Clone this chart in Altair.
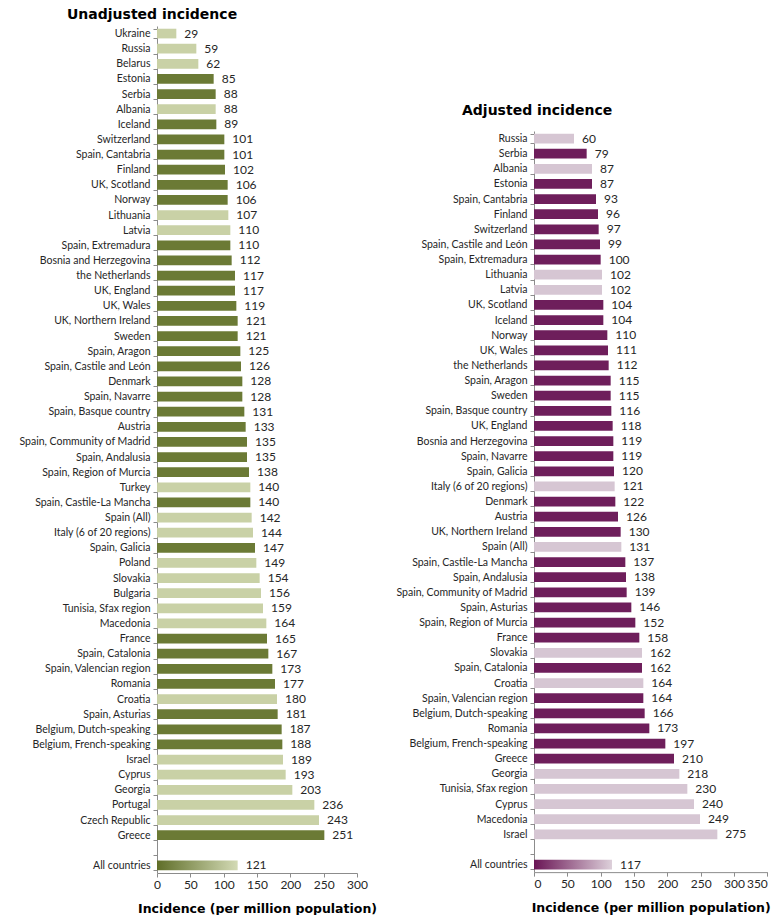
import altair as alt
import pandas as pd

# ---- data ----
left_countries = ["Ukraine", "Russia", "Belarus", "Estonia", "Serbia", "Albania", "Iceland",
    "Switzerland", "Spain, Cantabria", "Finland", "UK, Scotland", "Norway", "Lithuania", "Latvia",
    "Spain, Extremadura", "Bosnia and Herzegovina", "the Netherlands", "UK, England", "UK, Wales",
    "UK, Northern Ireland", "Sweden", "Spain, Aragon", "Spain, Castile and León", "Denmark",
    "Spain, Navarre", "Spain, Basque country", "Austria", "Spain, Community of Madrid",
    "Spain, Andalusia", "Spain, Region of Murcia", "Turkey", "Spain, Castile-La Mancha",
    "Spain (All)", "Italy (6 of 20 regions)", "Spain, Galicia", "Poland", "Slovakia", "Bulgaria",
    "Tunisia, Sfax region", "Macedonia", "France", "Spain, Catalonia", "Spain, Valencian region",
    "Romania", "Croatia", "Spain, Asturias", "Belgium, Dutch-speaking", "Belgium, French-speaking",
    "Israel", "Cyprus", "Georgia", "Portugal", "Czech Republic", "Greece"]
left_values = [29, 59, 62, 85, 88, 88, 89, 101, 101, 102, 106, 106, 107, 110, 110, 112, 117, 117,
    119, 121, 121, 125, 126, 128, 128, 131, 133, 135, 135, 138, 140, 140, 142, 144, 147, 149, 154,
    156, 159, 164, 165, 167, 173, 177, 180, 181, 187, 188, 189, 193, 203, 236, 243, 251]
left_groups = ["light", "light", "light", "dark", "dark", "light", "dark", "dark", "dark", "dark",
    "dark", "dark", "light", "light", "dark", "dark", "dark", "dark", "dark", "dark", "dark", "dark",
    "dark", "dark", "dark", "dark", "dark", "dark", "dark", "dark", "light", "dark", "light", "light",
    "dark", "light", "light", "light", "light", "light", "dark", "dark", "dark", "dark", "light",
    "dark", "dark", "dark", "light", "light", "light", "light", "light", "dark"]
left_all = 121

right_countries = ["Russia", "Serbia", "Albania", "Estonia", "Spain, Cantabria", "Finland",
    "Switzerland", "Spain, Castile and León", "Spain, Extremadura", "Lithuania", "Latvia",
    "UK, Scotland", "Iceland", "Norway", "UK, Wales", "the Netherlands", "Spain, Aragon", "Sweden",
    "Spain, Basque country", "UK, England", "Bosnia and Herzegovina", "Spain, Navarre",
    "Spain, Galicia", "Italy (6 of 20 regions)", "Denmark", "Austria", "UK, Northern Ireland",
    "Spain (All)", "Spain, Castile-La Mancha", "Spain, Andalusia", "Spain, Community of Madrid",
    "Spain, Asturias", "Spain, Region of Murcia", "France", "Slovakia", "Spain, Catalonia", "Croatia",
    "Spain, Valencian region", "Belgium, Dutch-speaking", "Romania", "Belgium, French-speaking",
    "Greece", "Georgia", "Tunisia, Sfax region", "Cyprus", "Macedonia", "Israel"]
right_values = [60, 79, 87, 87, 93, 96, 97, 99, 100, 102, 102, 104, 104, 110, 111, 112, 115, 115,
    116, 118, 119, 119, 120, 121, 122, 126, 130, 131, 137, 138, 139, 146, 152, 158, 162, 162, 164,
    164, 166, 173, 197, 210, 218, 230, 240, 249, 275]
right_groups = ["light", "dark", "light", "dark", "dark", "dark", "dark", "dark", "dark", "light",
    "light", "dark", "dark", "dark", "dark", "dark", "dark", "dark", "dark", "dark", "dark", "dark",
    "dark", "light", "dark", "dark", "dark", "light", "dark", "dark", "dark", "dark", "dark", "dark",
    "light", "dark", "light", "dark", "dark", "dark", "dark", "dark", "light", "light", "light",
    "light", "light"]
right_all = 117

left_ticks = [0, 50, 100, 150, 200, 250, 300]
right_ticks = [0, 50, 100, 150, 200, 250, 300, 350]

STEP = 15.125
LABEL_FONT = "Lato"
TITLE_FONT = "DejaVu Sans"


def panel(countries, values, groups, all_value, colors, grad, ticks, title, title_dx, extent,
          title_offset, flush):
    domain = countries + [" ", "All countries"]
    df = pd.DataFrame({"country": countries, "value": values, "group": groups})
    dfall = pd.DataFrame({"country": ["All countries"], "value": [all_value], "group": ["all"]})
    dftext = pd.concat([df, dfall], ignore_index=True)
    xmax = ticks[-1]
    width = xmax * 200 / 300
    height = STEP * len(domain)

    y = alt.Y("country:N", sort=domain,
              scale=alt.Scale(domain=domain, paddingInner=0.36, paddingOuter=0.18),
              axis=alt.Axis(title=None, tickBand="extent", labelFont=LABEL_FONT, labelFontSize=10.5,
                            labelColor="#262626", labelPadding=3, tickSize=4,
                            domainColor="#8c8c8c", tickColor="#8c8c8c", labelLimit=300,
                            minExtent=extent, maxExtent=extent))
    x = alt.X("value:Q", scale=alt.Scale(domain=[0, xmax], nice=False),
              axis=alt.Axis(title="Incidence (per million population)", values=ticks, grid=False,
                            labelFont=LABEL_FONT, labelFontSize=12, labelColor="#262626",
                            labelFlush=flush, labelOverlap=False,
                            tickSize=4, domainColor="#8c8c8c", tickColor="#8c8c8c",
                            titleFont=TITLE_FONT, titleFontSize=12.5, titleFontWeight="bold",
                            titleColor="#000000", titlePadding=12, labelPadding=2))

    bars = alt.Chart(df).mark_bar().encode(
        x=x, y=y,
        color=alt.Color("group:N", scale=alt.Scale(domain=["dark", "light"], range=colors),
                        legend=None))
    allbar = alt.Chart(dfall).mark_bar(color=alt.LinearGradient(
        gradient="linear", x1=0, x2=1, y1=0, y2=0,
        stops=[alt.GradientStop(color=grad[0], offset=0),
               alt.GradientStop(color=grad[1], offset=1)])).encode(x=x, y=y)
    text = alt.Chart(dftext).mark_text(align="left", baseline="middle", dx=8, font=LABEL_FONT,
                                       fontSize=12, color="#262626").encode(
        x=x, y=y, text=alt.Text("value:Q"))
    return alt.layer(bars, allbar, text).properties(
        width=width, height=height,
        title=alt.TitleParams(title, font=TITLE_FONT, fontSize=14, fontWeight="bold",
                              color="#000000", anchor="start", frame="group", dx=title_dx,
                              offset=title_offset))


left = panel(left_countries, left_values, left_groups, left_all, ["#6B7A35", "#C9D1A6"],
             ["#5F6E28", "#D3DAB5"], left_ticks, "Unadjusted incidence", -90, 149, -1, False)
right = panel(right_countries, right_values, right_groups, right_all, ["#6E1E5B", "#D6C6D3"],
              ["#6A1555", "#DDD0DA"], right_ticks, "Adjusted incidence", -72, 139, 8, True)

spacer = alt.Chart(pd.DataFrame({"a": [0]})).mark_point(opacity=0).encode(
    x=alt.value(0), y=alt.value(0)).properties(width=1, height=78)

chart = alt.hconcat(left, alt.vconcat(spacer, right, spacing=0), spacing=18).resolve_scale(
    color="independent", x="independent", y="independent").properties(
    padding=0).configure_view(stroke=None)

chart.save("out.html", embed_options={"renderer": "svg", "actions": False})
